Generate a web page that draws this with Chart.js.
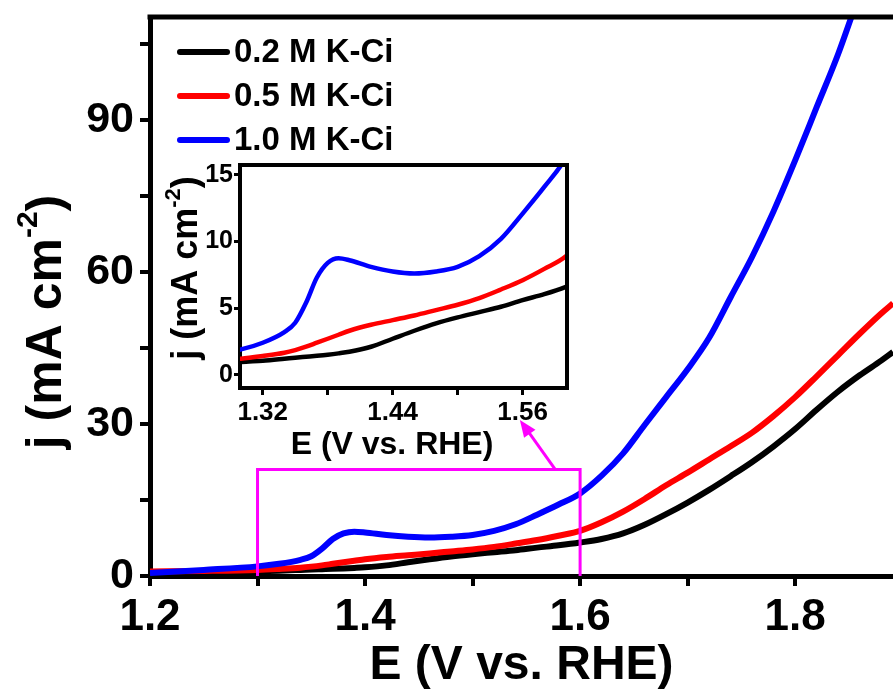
<!DOCTYPE html>
<html>
<head>
<meta charset="utf-8">
<script src="https://cdn.jsdelivr.net/npm/chart.js@4.4.1/dist/chart.umd.min.js"></script>
<style>
    body { margin: 0; background: #fff; }
    #quadro { position: relative; width: 893px; height: 697px; }
    #principal { position: absolute; left: 0; top: 0; }
    #detalhe { position: absolute; left: 160px; top: 150px; }
</style>
</head>
<body>
<div id="quadro">
    <canvas id="principal" width="893" height="697"></canvas>
    <canvas id="detalhe" width="420" height="320"></canvas>
</div>
<script>
// potencial E (V vs. RHE)
const potencial = [
    1.20, 1.25, 1.30, 1.32, 1.34, 1.35, 1.36, 1.37, 1.38, 1.39, 1.40,
    1.42, 1.44, 1.46, 1.48, 1.50, 1.52, 1.54, 1.56, 1.58, 1.60,
    1.62, 1.64, 1.66, 1.68, 1.70, 1.72, 1.74, 1.76, 1.78, 1.80,
    1.82, 1.84, 1.86, 1.88, 1.891,
];
// densidade de corrente j (mA cm-2)
const jKci02 = [
    0.2, 0.5, 0.95, 1.05, 1.2, 1.28, 1.35, 1.42, 1.5, 1.6, 1.72,
    2.1, 2.7, 3.3, 3.85, 4.3, 4.7, 5.1, 5.6, 6.05, 6.6,
    7.3, 8.4, 10.1, 12.2, 14.5, 17.0, 19.7, 22.5, 25.6, 29.0,
    32.8, 36.4, 39.6, 42.5, 44.2,
];
const jKci05 = [
    0.9, 1.0, 1.2, 1.4, 1.65, 1.85, 2.1, 2.4, 2.7, 3.0, 3.3,
    3.75, 4.1, 4.45, 4.85, 5.25, 5.75, 6.4, 7.1, 7.95, 8.9,
    10.6, 12.7, 15.2, 17.9, 20.4, 23.0, 25.6, 28.3, 31.6, 35.3,
    39.4, 43.6, 47.8, 51.8, 53.8,
];
const jKci10 = [
    0.6, 1.2, 1.9, 2.4, 3.2, 3.9, 5.4, 7.3, 8.4, 8.75, 8.6,
    8.1, 7.75, 7.6, 7.75, 8.1, 8.9, 10.2, 12.1, 14.1, 16.3,
    19.8, 24.2, 29.8, 35.3, 40.8, 47.0, 55.0, 63.0, 72.0, 82.0,
    92.5, 103.0, 115.0, null, null,
];
const legendas = ["0.2 M K-Ci", "0.5 M K-Ci", "1.0 M K-Ci"];
const cores = ["#000000", "#ff0000", "#0000ff"];
const series = [jKci02, jKci05, jKci10];

// janela ampliada (retangulo magenta)
const janelaE = [1.3, 1.6];
const janelaJ = [0, 21];

const FONTE = '"Liberation Sans", Arial, sans-serif';

function montarDatasets(espessura) {
    // azul por cima, depois vermelho, preto por baixo
    return [2, 1, 0].map((i) => ({
        label: legendas[i],
        data: potencial.map((e, k) => ({ x: e, y: series[i][k] })),
        borderColor: cores[i],
        backgroundColor: cores[i],
        borderWidth: espessura,
        pointRadius: 0,
        cubicInterpolationMode: "monotone",
        spanGaps: false,
    }));
}

function eixo(opcoes) {
    return {
        type: "linear",
        min: opcoes.min,
        max: opcoes.max,
        position: opcoes.posicao,
        ticks: {
            stepSize: opcoes.passo,
            includeBounds: false,
            color: "#000",
            padding: opcoes.padding,
            font: { family: FONTE, size: opcoes.fonte, weight: "bold" },
            callback: opcoes.rotulo,
        },
        grid: {
            display: true,
            drawOnChartArea: false,
            drawTicks: true,
            tickLength: opcoes.tick,
            lineWidth: opcoes.tickLargura,
            color: "#000",
        },
        border: { display: true, width: opcoes.borda, color: "#000" },
        afterFit: (s) => {
            opcoes.ajuste(s);
            s.paddingTop = 0;
            s.paddingBottom = 0;
            s.paddingLeft = 0;
            s.paddingRight = 0;
        },
    };
}

function tituloY(ctx, cx, cy, tamanho) {
    const base = "j (mA cm";
    const sup = "-2";
    const fim = ")";
    const fBase = `bold ${tamanho}px ${FONTE}`;
    const fSup = `bold ${Math.round(tamanho * 0.6)}px ${FONTE}`;
    ctx.save();
    ctx.translate(cx, cy);
    ctx.rotate(-Math.PI / 2);
    ctx.fillStyle = "#000";
    ctx.textBaseline = "middle";
    ctx.textAlign = "left";
    ctx.font = fBase;
    const wBase = ctx.measureText(base).width;
    const wFim = ctx.measureText(fim).width;
    ctx.font = fSup;
    const wSup = ctx.measureText(sup).width;
    let x = -(wBase + wSup + wFim) / 2;
    ctx.font = fBase;
    ctx.fillText(base, x, 0);
    x += wBase;
    ctx.font = fSup;
    ctx.fillText(sup, x, -tamanho * 0.36);
    x += wSup;
    ctx.font = fBase;
    ctx.fillText(fim, x, 0);
    ctx.restore();
}

const extrasPrincipal = {
    id: "extrasPrincipal",
    afterDatasetsDraw(chart) {
        const { ctx, chartArea, scales } = chart;
        const sx = scales.x;
        const sy = scales.y;
        ctx.save();

        // borda superior
        ctx.strokeStyle = "#000";
        ctx.lineWidth = 5;
        ctx.beginPath();
        ctx.moveTo(chartArea.left - 2.5, chartArea.top);
        ctx.lineTo(chartArea.right, chartArea.top);
        ctx.stroke();

        // retangulo magenta
        const x0 = sx.getPixelForValue(janelaE[0]);
        const x1 = sx.getPixelForValue(janelaE[1]);
        const y0 = sy.getPixelForValue(janelaJ[0]);
        const y1 = sy.getPixelForValue(janelaJ[1]);
        ctx.strokeStyle = "#ff00ff";
        ctx.lineWidth = 3;
        ctx.beginPath();
        ctx.moveTo(x0, y0);
        ctx.lineTo(x0, y1);
        ctx.lineTo(x1, y1);
        ctx.lineTo(x1, y0);
        ctx.stroke();

        // seta ate o detalhe
        const ax = sx.getPixelForValue(1.577);
        const ay = y1;
        const bx = sx.getPixelForValue(1.544);
        const by = sy.getPixelForValue(30.8);
        const ang = Math.atan2(by - ay, bx - ax);
        ctx.beginPath();
        ctx.moveTo(ax, ay);
        ctx.lineTo(bx - 12 * Math.cos(ang), by - 12 * Math.sin(ang));
        ctx.stroke();
        ctx.fillStyle = "#ff00ff";
        ctx.beginPath();
        ctx.moveTo(bx, by);
        ctx.lineTo(bx - 17 * Math.cos(ang) + 7 * Math.sin(ang), by - 17 * Math.sin(ang) - 7 * Math.cos(ang));
        ctx.lineTo(bx - 17 * Math.cos(ang) - 7 * Math.sin(ang), by - 17 * Math.sin(ang) + 7 * Math.cos(ang));
        ctx.closePath();
        ctx.fill();

        // legenda
        ctx.font = `bold 33px ${FONTE}`;
        ctx.textBaseline = "middle";
        ctx.textAlign = "left";
        legendas.forEach((txt, i) => {
            const yy = 52 + i * 44;
            ctx.strokeStyle = cores[i];
            ctx.lineWidth = 6;
            ctx.lineCap = "round";
            ctx.beginPath();
            ctx.moveTo(180, yy);
            ctx.lineTo(227, yy);
            ctx.stroke();
            ctx.fillStyle = "#000";
            ctx.fillText(txt, 234, yy + 1);
        });

        // titulos dos eixos
        ctx.fillStyle = "#000";
        ctx.textAlign = "center";
        ctx.font = `bold 48px ${FONTE}`;
        ctx.fillText("E (V vs. RHE)", (chartArea.left + chartArea.right) / 2, 666);
        tituloY(ctx, 47, 322, 50);

        ctx.restore();
    },
};

const extrasDetalhe = {
    id: "extrasDetalhe",
    afterDatasetsDraw(chart) {
        const { ctx, chartArea } = chart;
        ctx.save();
        ctx.strokeStyle = "#000";
        ctx.lineWidth = 4;
        ctx.beginPath();
        ctx.moveTo(chartArea.left - 2, chartArea.top);
        ctx.lineTo(chartArea.right, chartArea.top);
        ctx.lineTo(chartArea.right, chartArea.bottom + 2);
        ctx.stroke();

        ctx.fillStyle = "#000";
        ctx.textAlign = "center";
        ctx.textBaseline = "middle";
        ctx.font = `bold 32px ${FONTE}`;
        ctx.fillText("E (V vs. RHE)", 232, 295);
        tituloY(ctx, 27, 118, 36);
        ctx.restore();
    },
};

new Chart(document.getElementById("principal"), {
    type: "line",
    data: { datasets: montarDatasets(6) },
    options: {
        responsive: false,
        animation: false,
        layout: { padding: { top: 17, right: 0, left: 0, bottom: 0 } },
        plugins: { legend: { display: false }, tooltip: { enabled: false } },
        scales: {
            x: eixo({
                min: 1.2, max: 1.891, posicao: "bottom", passo: 0.1,
                fonte: 44, padding: 5, tick: 10, tickLargura: 4, borda: 5,
                rotulo: (v) => (Math.round(v * 10) % 2 === 0 ? (Math.round(v * 10) / 10).toFixed(1) : ""),
                ajuste: (s) => { s.height = 121; },
            }),
            y: eixo({
                min: 0, max: 110.3, posicao: "left", passo: 15,
                fonte: 43, padding: 6, tick: 10, tickLargura: 4, borda: 5,
                rotulo: (v) => (Math.round(v) % 30 === 0 ? String(Math.round(v)) : ""),
                ajuste: (s) => { s.width = 150; },
            }),
        },
    },
    plugins: [extrasPrincipal],
});

new Chart(document.getElementById("detalhe"), {
    type: "line",
    data: { datasets: montarDatasets(4.5) },
    options: {
        responsive: false,
        animation: false,
        layout: { padding: { top: 15, right: 13, left: 0, bottom: 0 } },
        plugins: { legend: { display: false }, tooltip: { enabled: false } },
        scales: {
            x: eixo({
                min: 1.299, max: 1.601, posicao: "bottom", passo: 0.06,
                fonte: 26, padding: 2, tick: 7, tickLargura: 3, borda: 4,
                rotulo: (v) => ((Math.round(v * 100) - 132) % 12 === 0 ? v.toFixed(2) : ""),
                ajuste: (s) => { s.height = 82; },
            }),
            y: eixo({
                min: -1, max: 15.75, posicao: "left", passo: 5,
                fonte: 25, padding: 1, tick: 6, tickLargura: 3, borda: 4,
                rotulo: (v) => String(Math.round(v)),
                ajuste: (s) => { s.width = 80; },
            }),
        },
    },
    plugins: [extrasDetalhe],
});
</script>
</body>
</html>
